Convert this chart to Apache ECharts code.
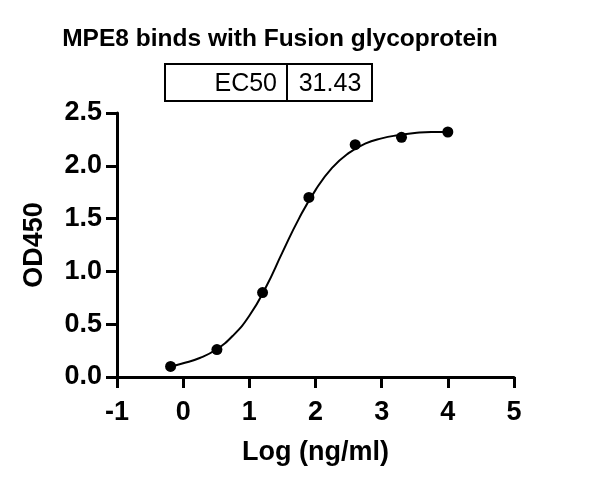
<!DOCTYPE html>
<html>
<head>
<meta charset="utf-8">
<script src="https://cdn.jsdelivr.net/npm/echarts@6/dist/echarts.min.js"></script>
<style>
  html, body { margin: 0; padding: 0; background: #fff; }
  #chart { width: 600px; height: 488px; }
</style>
</head>
<body>
<div id="chart"></div>
<script>
// measured points: log concentration vs OD450
const logConc = [-0.19, 0.51, 1.2, 1.9, 2.6, 3.3, 4.0];
const od450 = [0.10, 0.26, 0.80, 1.70, 2.20, 2.27, 2.32];

// fitted curve
const fitX = [-0.19, 0, 0.25, 0.5, 0.75, 1.0, 1.25, 1.5, 1.75, 2.0, 2.25, 2.5, 2.75, 3.0, 3.25, 3.5, 3.75, 4.0];
const fitY = [0.10, 0.13, 0.18, 0.26, 0.39, 0.58, 0.85, 1.18, 1.50, 1.77, 1.98, 2.12, 2.21, 2.26, 2.29, 2.31, 2.32, 2.32];

const ec50Label = "EC50";
const ec50Value = "31.43";

const font = "'Liberation Sans', Arial, sans-serif";
const chart = echarts.init(document.getElementById("chart"));

chart.setOption({
  animation: false,
  title: {
    text: "MPE8 binds with Fusion glycoprotein",
    left: 275,
    top: 22,
    textAlign: "center",
    textStyle: { fontFamily: font, fontSize: 24.5, fontWeight: "bold", color: "#000" }
  },
  graphic: [
    {
      type: "rect",
      shape: { x: 165, y: 64, width: 207, height: 37 },
      style: { fill: "none", stroke: "#000", lineWidth: 2 }
    },
    {
      type: "line",
      shape: { x1: 287, y1: 64, x2: 287, y2: 101 },
      style: { stroke: "#000", lineWidth: 2 }
    },
    {
      type: "text",
      x: 277, y: 84,
      style: { text: ec50Label, align: "right", verticalAlign: "middle", font: "25px " + font, fill: "#000" }
    },
    {
      type: "text",
      x: 330, y: 84,
      style: { text: ec50Value, align: "center", verticalAlign: "middle", font: "25px " + font, fill: "#000" }
    }
  ],
  grid: { left: 117, right: 86, top: 113, bottom: 111 },
  xAxis: {
    type: "value",
    min: -1,
    max: 5,
    interval: 1,
    name: "Log (ng/ml)",
    nameLocation: "middle",
    nameGap: 62,
    nameTextStyle: { fontFamily: font, fontSize: 27, fontWeight: "bold", color: "#000" },
    axisLine: { onZero: false, lineStyle: { color: "#000", width: 3 } },
    axisTick: { length: 11, lineStyle: { color: "#000", width: 3 } },
    axisLabel: { fontFamily: font, fontSize: 27, fontWeight: "bold", color: "#000", margin: 22 },
    splitLine: { show: false }
  },
  yAxis: {
    type: "value",
    min: 0,
    max: 2.5,
    interval: 0.5,
    name: "OD450",
    nameLocation: "middle",
    nameGap: 69,
    nameTextStyle: { fontFamily: font, fontSize: 27, fontWeight: "bold", color: "#000" },
    axisLine: { show: true, onZero: false, lineStyle: { color: "#000", width: 3 } },
    axisTick: { show: true, length: 11, lineStyle: { color: "#000", width: 3 } },
    axisLabel: {
      fontFamily: font, fontSize: 27, fontWeight: "bold", color: "#000", margin: 15,
      formatter: (v) => v.toFixed(1)
    },
    splitLine: { show: false }
  },
  series: [
    {
      type: "line",
      data: fitX.map((x, i) => [x, fitY[i]]),
      smooth: true,
      showSymbol: false,
      lineStyle: { color: "#000", width: 2 },
      z: 2
    },
    {
      type: "scatter",
      data: logConc.map((x, i) => [x, od450[i]]),
      symbol: "circle",
      symbolSize: 11,
      itemStyle: { color: "#000", opacity: 1 },
      z: 3
    }
  ]
});
</script>
</body>
</html>
